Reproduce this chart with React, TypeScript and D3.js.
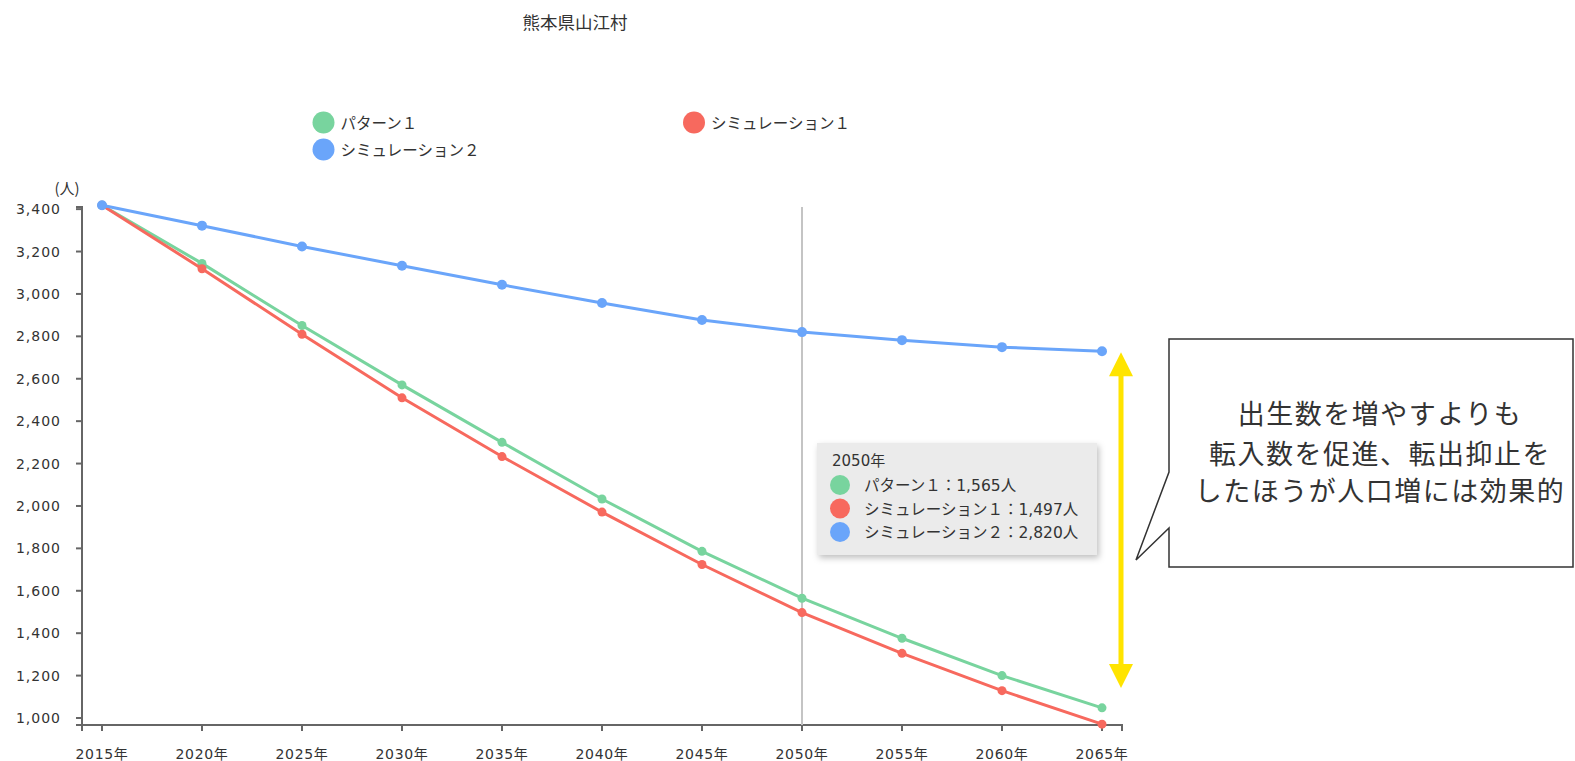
import React from "react";
import * as d3 from "d3";

// Population projection for 熊本県山江村 (people)
const years = [2015, 2020, 2025, 2030, 2035, 2040, 2045, 2050, 2055, 2060, 2065];
const pattern1 = [3418, 3144, 2851, 2571, 2300, 2033, 1786, 1565, 1376, 1200, 1048];
const simulation1 = [3418, 3119, 2810, 2510, 2233, 1971, 1724, 1497, 1305, 1129, 971];
const simulation2 = [3418, 3322, 3224, 3133, 3043, 2957, 2877, 2820, 2782, 2749, 2730];
const yTicks = [1000, 1200, 1400, 1600, 1800, 2000, 2200, 2400, 2600, 2800, 3000, 3200, 3400];
const seriesNames = ["パターン１", "シミュレーション１", "シミュレーション２"];
const seriesColors = ["#78d49e", "#f7695e", "#6aa5fa"];
const highlightYear = 2050;
const gapRange = [1142, 2725]; // span of the yellow double arrow (people)
const calloutLines = ["出生数を増やすよりも", "転入数を促進、転出抑止を", "したほうが人口増には効果的"];

const FONT = "'DejaVu Sans', 'Noto Sans CJK JP', sans-serif";
const CJK = "'Noto Sans CJK JP', sans-serif";
const W = 1575;
const H = 761;

export default function App() {
  const x = d3.scaleLinear().domain([2014, 2066]).range([82, 1122]);
  const y = d3.scaleLinear().domain([967, 3410]).range([725, 207]);
  const series = [pattern1, simulation1, simulation2];
  const line = d3
    .line<number>()
    .x((_, i) => x(years[i]))
    .y((d) => y(d));
  const fmt = d3.format(",");
  const axisColor = "#666";
  const textColor = "#333";
  const hx = x(highlightYear);
  const hi = years.indexOf(highlightYear);

  const ax = x(2066) - 1;
  const aTop = y(gapRange[1]);
  const aBot = y(gapRange[0]);

  // tooltip box position
  const tx = hx + 15;
  const ty = 443;

  const legendPos = [
    { cx: 323.5, cy: 122.5 },
    { cx: 694, cy: 122.5 },
    { cx: 323.5, cy: 149.5 },
  ];

  return (
    <svg
      width={W}
      height={H}
      style={{ position: "absolute", left: 0, top: 0, background: "#fff" }}
      fontFamily={FONT}
    >
      <defs>
        <filter id="tipShadow" x="-10%" y="-10%" width="130%" height="140%">
          <feDropShadow dx="2" dy="3" stdDeviation="3" floodColor="#000" floodOpacity="0.25" />
        </filter>
      </defs>

      {/* title */}
      <text x={575} y={28.5} textAnchor="middle" fontSize={17.5} fill={textColor} fontFamily={CJK}>
        熊本県山江村
      </text>

      {/* legend */}
      {legendPos.map((p, i) => (
        <g key={i}>
          <circle cx={p.cx} cy={p.cy} r={11} fill={seriesColors[i]} />
          <text x={p.cx + 17} y={p.cy + 6} fontSize={15.5} fill={textColor}>
            {seriesNames[i]}
          </text>
        </g>
      ))}

      {/* y axis */}
      <text x={67} y={194} textAnchor="middle" fontSize={15} fill={textColor} fontFamily={CJK}>
        (人)
      </text>
      <path
        d={`M76,${y.range()[1]}H82V${y.range()[0]}H76`}
        fill="none"
        stroke={axisColor}
        strokeWidth={2}
      />
      {yTicks.map((t) => (
        <g key={t} transform={`translate(0,${y(t)})`}>
          <line x1={76} x2={82} stroke={axisColor} strokeWidth={2} />
          <text x={61} y={5} textAnchor="end" fontSize={14} letterSpacing={1} fill={textColor}>
            {fmt(t)}
          </text>
        </g>
      ))}

      {/* x axis */}
      <path
        d={`M${x.range()[0]},731V725H${x.range()[1]}V731`}
        fill="none"
        stroke={axisColor}
        strokeWidth={2}
      />
      {years.map((yr) => (
        <g key={yr} transform={`translate(${x(yr)},0)`}>
          <line y1={725} y2={731} stroke={axisColor} strokeWidth={2} />
          <text y={759} textAnchor="middle" fontSize={14} letterSpacing={0.7} fill={textColor}>
            {yr}年
          </text>
        </g>
      ))}

      {/* highlight guide */}
      <line x1={hx} x2={hx} y1={207} y2={725} stroke="#c4c4c4" strokeWidth={2} />

      {/* series */}
      {series.map((s, i) => (
        <g key={i}>
          <path d={line(s) || ""} fill="none" stroke={seriesColors[i]} strokeWidth={3} />
          {s.map((v, j) => (
            <circle key={j} cx={x(years[j])} cy={y(v)} r={i === 2 ? 5 : 4.5} fill={seriesColors[i]} />
          ))}
        </g>
      ))}

      {/* tooltip */}
      <g transform={`translate(${tx},${ty})`}>
        <rect width={280} height={112} fill="#ebebeb" filter="url(#tipShadow)" />
        <text x={15} y={23} fontSize={15} fill={textColor}>
          {highlightYear}年
        </text>
        {series.map((s, i) => (
          <g key={i} transform={`translate(0,${42 + i * 23.5})`}>
            <circle cx={23} cy={0} r={10} fill={seriesColors[i]} />
            <text x={47} y={6} fontSize={15.5} fill={textColor}>
              {seriesNames[i]}：{fmt(s[hi])}人
            </text>
          </g>
        ))}
      </g>

      {/* yellow double arrow */}
      <g fill="#ffe400" stroke="none">
        <rect x={ax - 2.5} y={aTop + 20} width={5} height={aBot - aTop - 40} />
        <path d={`M${ax},${aTop}L${ax + 12},${aTop + 24}H${ax - 12}Z`} />
        <path d={`M${ax},${aBot}L${ax + 12},${aBot - 24}H${ax - 12}Z`} />
      </g>

      {/* callout */}
      <path
        d="M1169,339H1573V567H1169V528L1136,560L1169,472Z"
        fill="#fff"
        stroke="#333"
        strokeWidth={1.5}
      />
      {calloutLines.map((t, i) => (
        <text
          key={i}
          x={1380}
          y={[424, 464, 501][i]}
          textAnchor="middle"
          fontSize={27}
          letterSpacing={1.5}
          fill={textColor}
          fontFamily={CJK}
        >
          {t}
        </text>
      ))}
    </svg>
  );
}
